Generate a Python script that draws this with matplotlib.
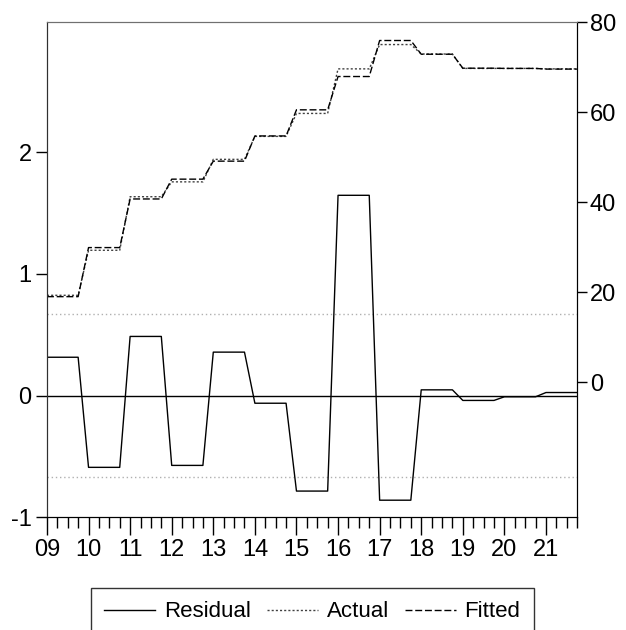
import numpy as np
import matplotlib
matplotlib.use('Agg')
import matplotlib.pyplot as plt
from matplotlib.ticker import FixedLocator, MultipleLocator

plt.rcParams['font.family'] = ['Liberation Sans', 'DejaVu Sans']

# Yearly levels (each held for four quarters), 2009-2021
years = list(range(2009, 2022))
residual = [0.315, -0.59, 0.486, -0.574, 0.357, -0.063, -0.785, 1.646, -0.86, 0.047, -0.04, -0.01, 0.025]
actual = [19.3, 29.3, 41.2, 44.5, 49.5, 54.6, 59.7, 69.6, 75.0, 72.9, 69.7, 69.7, 69.6]
fitted = [19.0, 29.9, 40.7, 45.1, 49.1, 54.7, 60.5, 67.9, 75.9, 72.85, 69.75, 69.7, 69.55]
year_labels = ['09', '10', '11', '12', '13', '14', '15', '16', '17', '18', '19', '20', '21']
sigma = 0.67

# Expand to quarterly observations
t = np.array([y + q / 4 for y in years for q in range(4)])
res_q = np.repeat(residual, 4)
act_q = np.repeat(actual, 4)
fit_q = np.repeat(fitted, 4)

fig = plt.figure(figsize=(6.26, 6.30), dpi=100)
ax = fig.add_axes([0.075, 0.179, 0.847, 0.786])
ax2 = ax.twinx()

# Residual on left axis
ax.axhline(0, color='black', lw=1.0, zorder=1)
ax.axhline(sigma, color='#b0b0b0', lw=1.0, ls=(0, (1, 2)), zorder=1)
ax.axhline(-sigma, color='#b0b0b0', lw=1.0, ls=(0, (1, 2)), zorder=1)
l_res, = ax.plot(t, res_q, color='black', lw=1.0, label='Residual')
ax.set_xlim(2009, 2021.75)
ax.set_ylim(-1, 3.07)
ax.set_yticks([-1, 0, 1, 2])
ax.set_yticklabels(['-1', '0', '1', '2'])

# Actual / Fitted on right axis
l_act, = ax2.plot(t, act_q, color='#404040', lw=1.0, ls=(0, (1.5, 1.5)), label='Actual')
l_fit, = ax2.plot(t, fit_q, color='black', lw=1.0, ls=(0, (5, 2)), label='Fitted')
ax2.set_ylim(-30, 80)
ax2.set_yticks([0, 20, 40, 60, 80])

# X ticks: years major, quarters minor
ax.xaxis.set_major_locator(FixedLocator(years))
ax.xaxis.set_minor_locator(MultipleLocator(0.25))
ax.set_xticklabels(year_labels)

for a in (ax, ax2):
    a.tick_params(axis='both', which='major', labelsize=17, direction='out', width=1.0, color='black')
ax.tick_params(axis='x', which='major', length=13, pad=3)
ax.tick_params(axis='x', which='minor', length=8, width=1.0)
ax.tick_params(axis='y', which='major', length=8, pad=3)
ax2.tick_params(axis='y', which='major', length=7, pad=2)

for a in (ax, ax2):
    a.spines['top'].set_color('#707070')
    a.spines['left'].set_color('#303030')
    a.spines['right'].set_color('black')
    a.spines['bottom'].set_color('black')

leg = fig.legend(handles=[l_res, l_act, l_fit], loc='upper center', ncol=3,
                 bbox_to_anchor=(0.499, 0.0667), fontsize=16, frameon=True, fancybox=False,
                 edgecolor='black', handlelength=2.3, handletextpad=0.4, columnspacing=0.7,
                 borderpad=0.6, borderaxespad=0)
leg.get_frame().set_linewidth(1.0)

fig.savefig('out.png', dpi=100)
